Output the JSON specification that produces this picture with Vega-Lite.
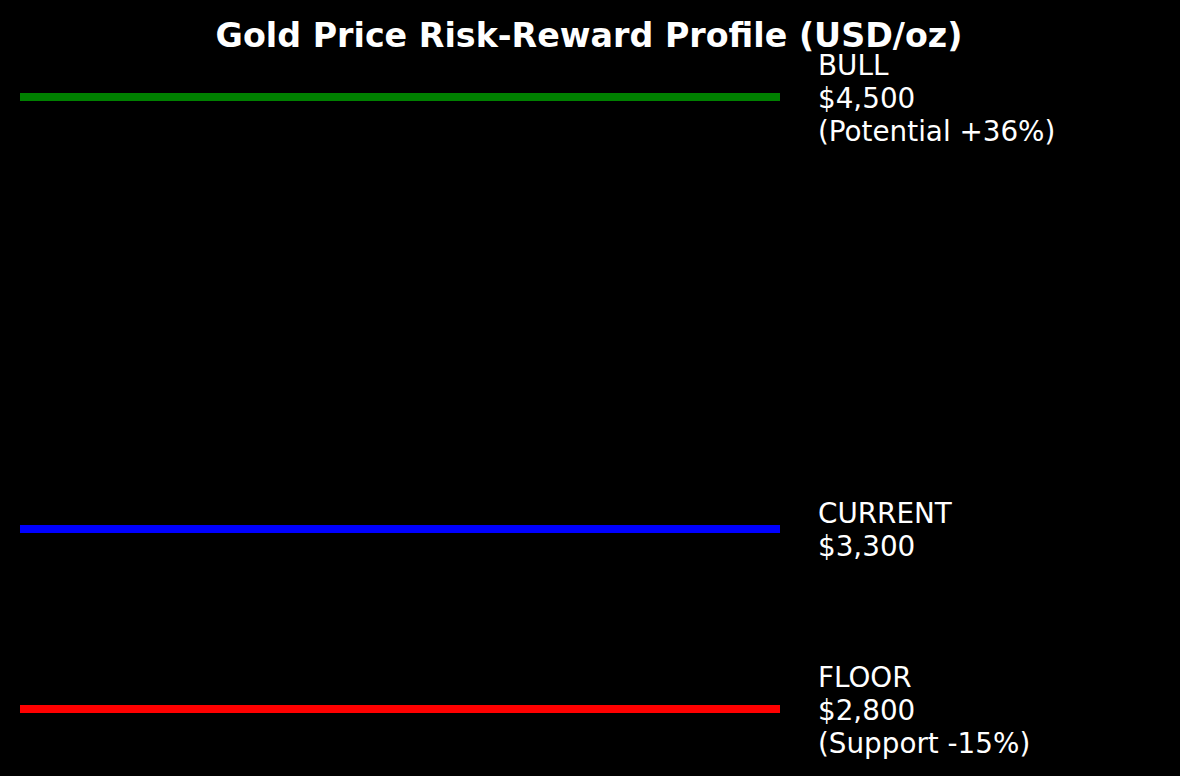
{
  "$schema": "https://vega.github.io/schema/vega-lite/v6.json",
  "autosize": "none",
  "width": 760,
  "height": 716,
  "padding": {"top": 60, "left": 20, "right": 400, "bottom": 0},
  "background": "black",
  "config": {"view": {"stroke": null}, "font": "DejaVu Sans"},
  "title": {
    "text": "Gold Price Risk-Reward Profile (USD/oz)",
    "color": "white",
    "font": "DejaVu Sans",
    "fontSize": 33.3,
    "fontWeight": "bold",
    "anchor": "middle",
    "frame": "group",
    "baseline": "alphabetic",
    "offset": -28,
    "dx": 189
  },
  "data": {
    "values": [
      {"scenario": "BULL", "price": 4500, "lines": 3, "label": "BULL\n$4,500\n(Potential +36%)"},
      {"scenario": "CURRENT", "price": 3300, "lines": 2, "label": "CURRENT\n$3,300"},
      {"scenario": "FLOOR", "price": 2800, "lines": 3, "label": "FLOOR\n$2,800\n(Support -15%)"}
    ]
  },
  "encoding": {
    "y": {
      "field": "price",
      "type": "quantitative",
      "scale": {"domain": [2613.9, 4602.8], "nice": false, "zero": false},
      "axis": null
    }
  },
  "layer": [
    {
      "mark": {"type": "rule", "strokeWidth": 8},
      "encoding": {
        "x": {"datum": 0, "type": "quantitative", "scale": {"domain": [0, 1], "nice": false}, "axis": null},
        "x2": {"datum": 1},
        "color": {
          "field": "scenario",
          "type": "nominal",
          "scale": {"domain": ["BULL", "CURRENT", "FLOOR"], "range": ["#008000", "#0000ff", "#ff0000"]},
          "legend": null
        }
      }
    },
    {
      "transform": [{"filter": "datum.lines == 3"}],
      "mark": {"type": "text", "align": "left", "baseline": "middle", "lineBreak": "\n", "lineHeight": 33, "fontSize": 27.8, "color": "white", "dy": -30.5, "clip": false},
      "encoding": {
        "x": {"datum": 1.05, "type": "quantitative"},
        "text": {"field": "label"}
      }
    },
    {
      "transform": [{"filter": "datum.lines == 2"}],
      "mark": {"type": "text", "align": "left", "baseline": "middle", "lineBreak": "\n", "lineHeight": 33, "fontSize": 27.8, "color": "white", "dy": -14.5, "clip": false},
      "encoding": {
        "x": {"datum": 1.05, "type": "quantitative"},
        "text": {"field": "label"}
      }
    }
  ]
}
